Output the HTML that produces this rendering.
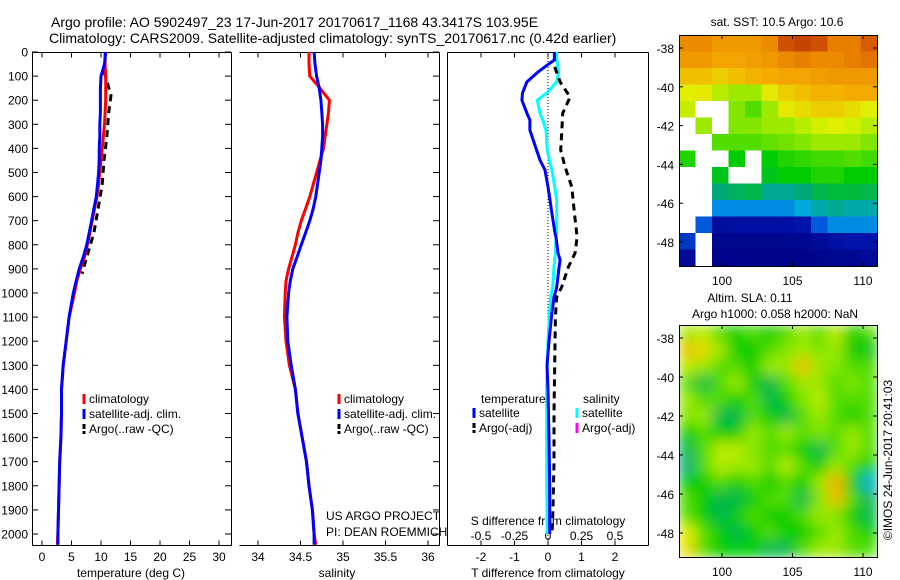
<!DOCTYPE html>
<html><head><meta charset="utf-8"><style>
html,body{margin:0;padding:0;background:#fff;}
svg{display:block;font-family:"Liberation Sans",sans-serif;}
text{font-size:12px;fill:#000;}
</style></head><body>
<svg id="c" width="900" height="580" viewBox="0 0 900 580" xmlns="http://www.w3.org/2000/svg">
<defs>
<filter id="blur" x="0" y="0" width="1" height="1"><feGaussianBlur stdDeviation="7" edgeMode="duplicate"/></filter>
<clipPath id="m1clip"><rect x="679" y="35" width="198" height="231"/></clipPath>
<clipPath id="m2clip"><rect x="679" y="325" width="198" height="232"/></clipPath>
</defs>
<text x="51" y="27" style="font-size:14px">Argo profile: AO 5902497_23 17-Jun-2017 20170617_1168 43.3417S 103.95E</text>
<text x="49" y="43" style="font-size:14px">Climatology: CARS2009. Satellite-adjusted climatology: synTS_20170617.nc (0.42d earlier)</text>
<g id="g"></g>
</svg>
<script>
// ---- profile data (depth in m) ----
const depths = [0,50,100,150,200,250,300,350,400,450,500,550,600,650,700,750,800,850,900,950,1000,1100,1200,1300,1400,1500,1600,1700,1800,1900,2000,2045];
const tempClim = [10.7,10.7,10.8,10.8,10.8,10.7,10.6,10.4,10.2,10.0,9.8,9.6,9.3,8.9,8.5,8.1,7.7,7.2,6.5,5.9,5.5,4.6,4.1,3.6,3.3,3.3,3.2,3.0,2.9,2.8,2.7,2.6];
const tempSat = [10.8,10.6,10.0,9.9,9.9,9.9,9.8,9.8,9.7,9.7,9.6,9.4,9.2,8.8,8.4,8.0,7.6,7.0,6.3,5.8,5.3,4.6,4.1,3.6,3.3,3.3,3.2,3.0,2.9,2.8,2.7,2.7];
const tempArgoDepth = [80,130,180,250,350,450,550,650,750,850,920];
const tempArgo = [10.5,11.1,11.7,11.3,11.0,10.5,10.2,9.5,8.8,7.6,6.8];
const salClim = [34.60,34.60,34.61,34.73,34.84,34.83,34.81,34.79,34.77,34.73,34.69,34.65,34.61,34.56,34.51,34.47,34.44,34.40,34.36,34.33,34.32,34.31,34.33,34.37,34.44,34.47,34.52,34.57,34.60,34.64,34.66,34.68];
const salSat = [34.66,34.67,34.69,34.72,34.74,34.75,34.76,34.76,34.75,34.74,34.72,34.70,34.68,34.65,34.61,34.56,34.51,34.46,34.41,34.38,34.36,34.34,34.35,34.39,34.44,34.47,34.52,34.57,34.60,34.64,34.66,34.66];
const diffDepths = [0,33,46,83,124,170,200,254,282,324,407,448,490,560,614,656,752,768,834,863,892,975,988,1016,1100,1200,1300,1400,1600,1800,2000];
const tDiffSat = [0.19,0.19,0.06,-0.30,-0.63,-0.76,-0.78,-0.63,-0.54,-0.54,-0.34,-0.24,-0.09,0.0,0.06,0.1,0.21,0.24,0.3,0.36,0.33,0.26,0.24,0.18,0.1,0.03,-0.03,0.0,0.03,0.05,0.05];
const sDiffSat = [0.065,0.065,0.07,0.08,0.065,-0.01,-0.08,-0.06,-0.04,-0.015,-0.005,0.01,0.03,0.05,0.065,0.065,0.065,0.06,0.055,0.05,0.045,0.035,0.03,0.02,0.01,0.0,-0.005,-0.01,-0.01,-0.01,-0.005];
const argoDiffDepths = [62,124,187,254,337,407,477,560,656,768,834,892,975,1016,1100,1300,1500,1700,1900,2000];
const tDiffArgo = [0.2,0.36,0.66,0.44,0.41,0.38,0.51,0.71,0.78,0.87,0.81,0.61,0.41,0.26,0.22,0.2,0.18,0.18,0.15,0.12];
const depthTicks = [0,100,200,300,400,500,600,700,800,900,1000,1100,1200,1300,1400,1500,1600,1700,1800,1900,2000];
const tempTicks = [0,5,10,15,20,25,30];
const salTicks = [34,34.5,35,35.5,36];
const salTickLabels = ["34","34.5","35","35.5","36"];
const tDiffTicks = [-2,-1,0,1,2];
const sDiffTickLabels = ["-0.5","-0.25","0","0.25","0.5"];
const latTicks = [-38,-40,-42,-44,-46,-48];
const lonTicks = [100,105,110];
// SST map (0..1 colour index, null = no data), 12 cols x 14 rows
const sstGrid = [
[0.8,0.8,0.78,0.78,0.78,0.8,0.9,0.92,0.9,0.82,0.82,0.88],
[0.78,0.78,0.76,0.76,0.77,0.78,0.8,0.82,0.8,0.8,0.82,0.84],
[0.72,0.72,0.7,0.72,0.74,0.75,0.76,0.76,0.77,0.78,0.78,0.78],
[0.65,0.66,0.62,0.6,0.6,0.66,0.7,0.72,0.74,0.74,0.75,0.75],
[0.63,null,null,0.58,0.55,0.6,0.66,0.68,0.7,0.7,0.68,0.65],
[null,0.6,null,0.58,0.58,0.6,0.6,0.62,0.64,0.65,0.64,0.62],
[null,null,0.55,0.55,0.55,0.56,0.57,0.58,0.6,0.6,0.6,0.58],
[0.52,null,null,0.5,null,0.5,0.52,0.53,0.54,0.54,0.55,0.54],
[null,null,0.48,null,null,0.48,0.5,0.5,0.52,0.52,0.5,0.5],
[null,null,0.42,0.44,0.45,0.4,0.4,0.42,0.45,0.46,0.46,0.45],
[null,null,0.3,0.3,0.3,0.3,0.3,0.34,0.38,0.4,0.38,0.38],
[null,0.25,0.1,0.12,0.12,0.12,0.12,0.15,0.25,0.3,0.3,0.3],
[0.2,null,0.05,0.05,0.05,0.05,0.05,0.06,0.08,0.12,0.15,0.15],
[0.08,null,0.03,0.03,0.03,0.03,0.03,0.03,0.04,0.05,0.06,0.08]];
// SLA map (0..1 colour index), 12 cols x 14 rows
const slaGrid = [
[0.6,0.62,0.55,0.5,0.55,0.5,0.55,0.6,0.55,0.62,0.5,0.55],
[0.72,0.68,0.6,0.5,0.5,0.55,0.58,0.6,0.58,0.6,0.5,0.48],
[0.62,0.6,0.55,0.55,0.5,0.6,0.6,0.72,0.6,0.58,0.55,0.55],
[0.55,0.45,0.55,0.6,0.5,0.45,0.55,0.6,0.6,0.55,0.58,0.55],
[0.6,0.55,0.55,0.5,0.55,0.45,0.5,0.58,0.62,0.55,0.55,0.55],
[0.58,0.6,0.45,0.45,0.55,0.5,0.45,0.55,0.6,0.55,0.5,0.55],
[0.5,0.55,0.5,0.5,0.6,0.55,0.6,0.55,0.58,0.55,0.6,0.55],
[0.45,0.55,0.62,0.62,0.58,0.55,0.55,0.5,0.45,0.55,0.6,0.55],
[0.42,0.55,0.62,0.6,0.6,0.55,0.62,0.55,0.5,0.6,0.55,0.5],
[0.5,0.5,0.55,0.5,0.55,0.5,0.55,0.5,0.6,0.74,0.5,0.35],
[0.55,0.5,0.45,0.45,0.5,0.55,0.55,0.45,0.58,0.72,0.55,0.45],
[0.55,0.5,0.45,0.5,0.55,0.5,0.5,0.55,0.6,0.58,0.5,0.45],
[0.65,0.55,0.5,0.45,0.5,0.55,0.5,0.5,0.55,0.6,0.55,0.5],
[0.68,0.55,0.5,0.5,0.5,0.45,0.45,0.55,0.6,0.6,0.55,0.55]];

const NS='http://www.w3.org/2000/svg';
const G=document.getElementById('g');
function el(tag,attrs,parent){const e=document.createElementNS(NS,tag);for(const k in attrs)e.setAttribute(k,attrs[k]);(parent||G).appendChild(e);return e;}
function txt(x,y,s,anchor,parent){const t=el('text',{x:x,y:y,'text-anchor':anchor||'start'},parent);t.textContent=s;return t;}
const yD=d=>52+d*0.241;
const xT=t=>42+t*5.9;
const xS=s=>258+(s-34)*85;
const xTd=d=>548+d*33.5;
const xSd=s=>548+s*134;
const xLon=l=>722+(l-100)*14.1;
const yLat1=l=>48+(-38-l)*19.4;
const yLat2=l=>338+(-38-l)*19.5;

function line(xs,ys,color,dash,name){
  const pts=xs.map((x,i)=>x.toFixed(1)+','+ys[i].toFixed(1)).join(' ');
  const p=el('polyline',{points:pts,fill:'none',stroke:color,'stroke-width':3,'stroke-dasharray':dash||'none'});
  
  
  return p;
}
function frame(x0,x1,y0,y1,left,name){
  const g=el('g',{});
  
  
  el('line',{x1:x0,y1:y0,x2:x1,y2:y0,stroke:'#000'},g);
  el('line',{x1:x0,y1:y1,x2:x1,y2:y1,stroke:'#000'},g);
  el('line',{x1:x1,y1:y0,x2:x1,y2:y1,stroke:'#000'},g);
  if(left)el('line',{x1:x0,y1:y0,x2:x0,y2:y1,stroke:'#000'},g);
  return g;
}
function xticks(g,xs,y0,y1){xs.forEach(x=>{el('line',{x1:x,y1:y0,x2:x,y2:y0+5,stroke:'#000'},g);el('line',{x1:x,y1:y1,x2:x,y2:y1-5,stroke:'#000'},g);});}

// Panel 1
const p1=frame(32.5,231.5,52.5,545.5,true,'temperature-panel');
depthTicks.forEach(d=>{const y=yD(d);el('line',{x1:32,y1:y,x2:38,y2:y,stroke:'#000'},p1);el('line',{x1:231,y1:y,x2:225,y2:y,stroke:'#000'},p1);const t=txt(28,y+4.5,String(d),'end',p1);

});
xticks(p1,tempTicks.map(xT),52.5,545.5);
tempTicks.forEach(v=>{const t=txt(xT(v),561,String(v),'middle',p1);

});
const t1=txt(131,577,'temperature (deg C)','middle',p1);


line(tempArgo.map(xT),tempArgoDepth.map(yD),'#000','7 5','argo-temperature-line');
line(tempClim.map(xT),depths.map(yD),'#f00',null,'climatology-temperature-line');
line(tempSat.map(xT),depths.map(yD),'#00f',null,'satellite-temperature-line');

// Panel 2
const p2=frame(239.5,439.5,52.5,545.5,false,'salinity-panel');
xticks(p2,salTicks.map(xS),52.5,545.5);
depthTicks.forEach(d=>{const y=yD(d);el('line',{x1:439,y1:y,x2:433,y2:y,stroke:'#000'},p2);});
salTicks.forEach((v,i)=>{const t=txt(xS(v),561,salTickLabels[i],'middle',p2);

});
const t2=txt(337,577,'salinity','middle',p2);


line(salClim.map(xS),depths.map(yD),'#f00',null,'climatology-salinity-line');
line(salSat.map(xS),depths.map(yD),'#00f',null,'satellite-salinity-line');
const c1=txt(326,520,'US ARGO PROJECT','start',p2);


const c2=txt(326,536,'PI: DEAN ROEMMICH','start',p2);



// Panel 3
const p3=frame(447.5,648.5,52.5,545.5,true,'difference-panel');
xticks(p3,tDiffTicks.map(xTd),52.5,545.5);
el('line',{x1:548,y1:52,x2:548,y2:545,stroke:'#000','stroke-dasharray':'1 2','stroke-width':1},p3);
tDiffTicks.forEach((v,i)=>{const t=txt(xTd(v),561,String(v),'middle',p3);


const s=txt(xTd(v),540,sDiffTickLabels[i],'middle',p3);

});
const t3=txt(548,525,'S difference from climatology','middle',p3);


const t4=txt(548,577,'T difference from climatology','middle',p3);


line(sDiffSat.map(xSd),diffDepths.map(yD),'#0ff',null,'salinity-satellite-diff-line');
line(tDiffArgo.map(xTd),argoDiffDepths.map(yD),'#000','7 5','temperature-argo-diff-line');
line(tDiffSat.map(xTd),diffDepths.map(yD),'#00f',null,'temperature-satellite-diff-line');

// Legends
function legend(x,y,color,label,dash,name){
  const g=el('g',{});
  
  
  el('line',{x1:x,y1:y-9,x2:x,y2:y+1,stroke:color,'stroke-width':3,'stroke-dasharray':dash||'none'},g);
  txt(x+5,y,label,'start',g);
}
[[84,'#f00','climatology'],[84,'#00f','satellite-adj. clim.'],[84,'#000','Argo(..raw -QC)']].forEach((l,i)=>legend(l[0],403+i*15,l[1],l[2],i==2?'5 2':null,'temperature-legend-entry'));
[[339,'#f00','climatology'],[339,'#00f','satellite-adj. clim.'],[339,'#000','Argo(..raw -QC)']].forEach((l,i)=>legend(l[0],403+i*15,l[1],l[2],i==2?'5 2':null,'salinity-legend-entry'));
const lt=txt(481,403,'temperature','start');


const ls=txt(583,403,'salinity','start');


legend(474,417,'#00f','satellite',null,'legend-temp-satellite');
legend(474,432,'#000','Argo(-adj)','5 2','legend-temp-argo');
legend(577,417,'#0ff','satellite',null,'legend-sal-satellite');
legend(577,432,'#f0f','Argo(-adj)',null,'legend-sal-argo');

// colormap
const stops=[[0,[0,0,130]],[0.15,[0,20,170]],[0.25,[0,90,220]],[0.33,[0,170,230]],[0.42,[0,170,120]],[0.5,[0,205,0]],[0.58,[130,230,0]],[0.65,[225,240,0]],[0.75,[245,170,0]],[0.85,[225,110,0]],[1,[170,20,0]]];
function cmap(v){for(let i=1;i<stops.length;i++){if(v<=stops[i][0]){const a=stops[i-1],b=stops[i],f=(v-a[0])/(b[0]-a[0]);return 'rgb('+a[1].map((c,k)=>Math.round(c+(b[1][k]-c)*f)).join(',')+')';}}return 'rgb(170,20,0)';}

function drawMap(grid,x0,y0,w,h,clip,blur,name){
  const g=el('g',{'clip-path':'url(#'+clip+')'});
  
  
  const inner=el('g',blur?{filter:'url(#blur)'}:{},g);
  const rows=grid.length,cols=grid[0].length,cw=w/cols,ch=h/rows;
  grid.forEach((row,r)=>row.forEach((v,c)=>{
    const rc=el('rect',{x:(x0+c*cw).toFixed(1),y:(y0+r*ch).toFixed(1),width:(cw+0.6).toFixed(1),height:(ch+0.6).toFixed(1),fill:v===null?'#fff':cmap(v)},inner);
    
    
  }));
  el('rect',{x:x0+0.5,y:y0+0.5,width:w,height:h,fill:'none',stroke:'#000'});
}
function mapAxes(y0,h,yLat,name){
  const g=el('g',{});
  
  
  latTicks.forEach(l=>{const y=yLat(l);el('line',{x1:679,y1:y,x2:683,y2:y,stroke:'#000'},g);el('line',{x1:877,y1:y,x2:873,y2:y,stroke:'#000'},g);txt(674,y+5,String(l),'end',g);});
  lonTicks.forEach(l=>{const x=xLon(l);el('line',{x1:x,y1:y0,x2:x,y2:y0+4,stroke:'#000'},g);el('line',{x1:x,y1:y0+h,x2:x,y2:y0+h-4,stroke:'#000'},g);txt(x,y0+h+19,String(l),'middle',g);});
}
drawMap(sstGrid,679,35,198,231,'m1clip',false,'sst-map');
mapAxes(35,231,yLat1,'sst-map-axes');
drawMap(slaGrid,679,325,198,232,'m2clip',true,'sla-map');
mapAxes(325,232,yLat2,'sla-map-axes');
const m1=txt(777,26,'sat. SST: 10.5 Argo: 10.6','middle');


const m2=txt(750,302,'Altim. SLA: 0.11','middle');


const m3=txt(775,318,'Argo h1000: 0.058 h2000: NaN','middle');


const im=el('text',{x:0,y:0,transform:'translate(892,460) rotate(-90)','text-anchor':'middle'});
im.textContent='©IMOS 24-Jun-2017 20:41:03';


</script>
</body></html>
